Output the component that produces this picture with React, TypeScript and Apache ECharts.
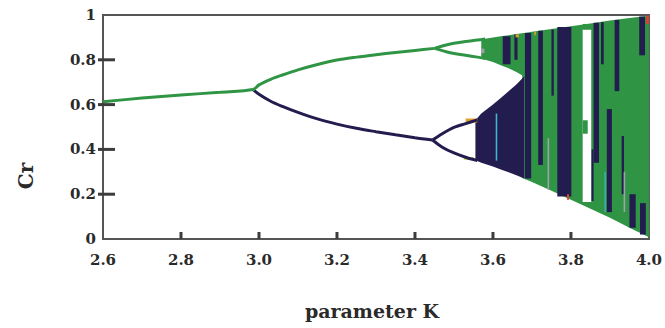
import React, { useEffect, useRef } from 'react';
import * as echarts from 'echarts';

// ---- data: [K, Cr] ----
const fixedAndUpperBranch = [
  [2.6, 0.613], [2.7, 0.629], [2.8, 0.643], [2.9, 0.655], [2.985, 0.667],
  [3.0, 0.688], [3.03, 0.713], [3.06, 0.732], [3.1, 0.755], [3.15, 0.779],
  [3.2, 0.799], [3.25, 0.812], [3.3, 0.823], [3.35, 0.833], [3.4, 0.842], [3.45, 0.851],
];
const lowerBranch = [
  [2.985, 0.667], [3.0, 0.646], [3.03, 0.615], [3.06, 0.592], [3.1, 0.565],
  [3.15, 0.536], [3.2, 0.513], [3.25, 0.494], [3.3, 0.479], [3.35, 0.465],
  [3.4, 0.452], [3.445, 0.442],
];
const upperLoopTop = [[3.45, 0.851], [3.48, 0.866], [3.5, 0.874], [3.53, 0.882], [3.56, 0.888], [3.58, 0.893]];
const upperLoopBottom = [[3.45, 0.851], [3.48, 0.836], [3.5, 0.828], [3.53, 0.82], [3.56, 0.812], [3.58, 0.806]];
const lowerLoopTop = [[3.445, 0.442], [3.47, 0.47], [3.5, 0.498], [3.53, 0.515], [3.56, 0.532]];
const lowerLoopBottom = [[3.445, 0.442], [3.47, 0.41], [3.5, 0.384], [3.53, 0.365], [3.56, 0.35]];

// chaotic bands (envelopes)
const upperBandK = [3.57, 3.58, 3.6, 3.62, 3.64, 3.66, 3.68];
const upperBandTop = [0.891, 0.894, 0.9, 0.905, 0.91, 0.915, 0.92];
const upperBandBottom = [0.815, 0.8, 0.79, 0.776, 0.762, 0.746, 0.725];

const lowerBandK = [3.555, 3.57, 3.6, 3.62, 3.64, 3.66, 3.68];
const lowerBandTop = [0.53, 0.56, 0.6, 0.63, 0.66, 0.69, 0.725];
const lowerBandBottom = [0.352, 0.34, 0.324, 0.31, 0.298, 0.285, 0.27];

const fullBandK = [3.675, 3.7, 3.75, 3.8, 3.85, 3.9, 3.95, 4.0];
const fullBandTop = [0.919, 0.925, 0.937, 0.95, 0.962, 0.975, 0.987, 0.997];
const fullBandBottom = [0.272, 0.255, 0.215, 0.175, 0.135, 0.095, 0.05, 0.008];

// vertical strips [K0, K1, low, high]
const navyStrips = [
  [3.625, 3.645, 0.78, 0.905],
  [3.655, 3.663, 0.8, 0.914],
  [3.682, 3.698, 0.27, 0.92],
  [3.716, 3.728, 0.33, 0.93],
  [3.75, 3.756, 0.64, 0.935],
  [3.765, 3.801, 0.19, 0.946],
  [3.852, 3.858, 0.17, 0.4],
  [3.858, 3.872, 0.34, 0.965],
  [3.877, 3.884, 0.78, 0.968],
  [3.892, 3.905, 0.12, 0.58],
  [3.912, 3.924, 0.66, 0.978],
  [3.93, 3.936, 0.2, 0.46],
  [3.95, 3.966, 0.05, 0.2],
  [3.975, 3.99, 0.82, 0.993],
  [3.977, 3.992, 0.02, 0.16],
];
const orangeStrips = [[3.53, 3.56, 0.52, 0.538], [3.658, 3.666, 0.9, 0.914], [3.706, 3.71, 0.91, 0.926]];
const yellowStrips = [[3.525, 3.55, 0.354, 0.366]];
const greyStrips = [[3.57, 3.578, 0.83, 0.85], [3.74, 3.744, 0.22, 0.45], [3.935, 3.939, 0.12, 0.3]];
const cyanStrips = [[3.607, 3.611, 0.35, 0.56], [3.886, 3.889, 0.12, 0.3]];
const redStrips = [[3.79, 3.795, 0.175, 0.2], [3.993, 4.0, 0.96, 0.997]];
const windowGap = [[3.83, 3.852, 0.165, 0.935]];
const windowPiece = [[3.83, 3.843, 0.47, 0.53], [3.83, 3.852, 0.935, 0.96]];

const xTicks = [2.6, 2.8, 3.0, 3.2, 3.4, 3.6, 3.8, 4.0];
const yTicks = [0, 0.2, 0.4, 0.6, 0.8, 1];

const GREEN = '#2f9545';
const NAVY = '#221d4e';
const AXIS = '#555';
const TICK = 'rgb(60,60,60)';
const FONT = '"DejaVu Serif", "Liberation Serif", serif';

function rectSeries(data: number[][], color: string, z: number) {
  return {
    type: 'custom',
    data,
    z,
    clip: true,
    silent: true,
    encode: { x: [0, 1], y: [2, 3] },
    renderItem: (_p: any, api: any) => {
      const a = api.coord([api.value(0), api.value(3)]);
      const b = api.coord([api.value(1), api.value(2)]);
      return {
        type: 'rect',
        shape: { x: a[0], y: a[1], width: b[0] - a[0], height: b[1] - a[1] },
        style: { fill: color },
      };
    },
  };
}

function bandSeries(ks: number[], top: number[], bottom: number[], color: string, z: number) {
  return {
    type: 'custom',
    data: [[ks[0], top[0]]],
    z,
    clip: true,
    silent: true,
    renderItem: (_p: any, api: any) => {
      const up = ks.map((k, i) => api.coord([k, top[i]]));
      const lo = ks.map((k, i) => api.coord([k, bottom[i]])).reverse();
      return { type: 'polygon', shape: { points: up.concat(lo) }, style: { fill: color } };
    },
  };
}

function lineSeries(data: number[][], color: string, z: number) {
  return {
    type: 'line',
    data,
    z,
    showSymbol: false,
    smooth: 0.3,
    silent: true,
    lineStyle: { color, width: 3 },
  };
}

// tick marks: small rects positioned through the axes' scales (one item per tick)
function tickSeries(ks: number[], vs: number[], horizontal: boolean) {
  return {
    type: 'custom',
    data: ks.map((k, i) => [k, vs[i]]),
    z: 30,
    clip: false,
    silent: true,
    renderItem: (_p: any, api: any) => {
      const p = api.coord([api.value(0), api.value(1)]);
      const shape = horizontal
        ? { x: p[0] - 5, y: p[1] - 1.5, width: 17, height: 3 }
        : { x: p[0] - 1.5, y: p[1] - 7, width: 3, height: 7 };
      return { type: 'rect', shape, style: { fill: TICK } };
    },
  };
}

const xTickInner = xTicks.slice(1, -1);
const yTickInner = yTicks.slice(1, -1);

export default function App() {
  const ref = useRef<HTMLDivElement>(null);
  useEffect(() => {
    if (!ref.current) return;
    const chart = echarts.init(ref.current, null, { renderer: 'svg' });
    chart.setOption({
      animation: false,
      backgroundColor: '#ffffff',
      grid: { left: 103, right: 9, top: 15, bottom: 89, show: true, borderColor: AXIS, borderWidth: 2 },
      xAxis: {
        type: 'value',
        min: xTicks[0],
        max: xTicks[xTicks.length - 1],
        interval: 0.2,
        axisLine: { show: true, lineStyle: { color: AXIS, width: 2 } },
        axisTick: { show: false },
        splitLine: { show: false },
        axisLabel: {
          margin: 13,
          fontFamily: FONT,
          fontWeight: 'bold',
          fontSize: 15,
          color: '#2a2a2a',
          formatter: (v: number) => v.toFixed(1),
        },
      },
      yAxis: {
        type: 'value',
        min: yTicks[0],
        max: yTicks[yTicks.length - 1],
        interval: 0.2,
        axisLine: { show: true, lineStyle: { color: AXIS, width: 2 } },
        axisTick: { show: false },
        splitLine: { show: false },
        axisLabel: {
          margin: 7,
          fontFamily: FONT,
          fontWeight: 'bold',
          fontSize: 15,
          color: '#2a2a2a',
          formatter: (v: number) => (Math.abs(v) < 1e-9 ? '0' : Math.abs(v - 1) < 1e-9 ? '1' : v.toFixed(1)),
        },
      },
      graphic: [
        {
          type: 'text',
          x: 26,
          y: 176,
          rotation: Math.PI / 2,
          style: {
            text: 'Cr',
            font: `bold 20px ${FONT}`,
            fill: '#2a2a2a',
            textAlign: 'center',
            textVerticalAlign: 'middle',
          },
        },
        {
          type: 'text',
          x: 372,
          y: 311,
          style: {
            text: 'parameter K',
            font: `bold 19px ${FONT}`,
            fill: '#2a2a2a',
            textAlign: 'center',
            textVerticalAlign: 'middle',
          },
        },
      ],
      series: [
        bandSeries(fullBandK, fullBandTop, fullBandBottom, GREEN, 1),
        bandSeries(upperBandK, upperBandTop, upperBandBottom, GREEN, 2),
        bandSeries(lowerBandK, lowerBandTop, lowerBandBottom, NAVY, 2),
        rectSeries(navyStrips, NAVY, 3),
        rectSeries(orangeStrips, '#e0a030', 4),
        rectSeries(yellowStrips, '#c8d040', 4),
        rectSeries(greyStrips, '#a2a0a8', 4),
        rectSeries(cyanStrips, '#40b8cc', 4),
        rectSeries(redStrips, '#e04030', 4),
        rectSeries(windowGap, '#ffffff', 5),
        rectSeries(windowPiece, GREEN, 6),
        lineSeries(lowerBranch, NAVY, 7),
        lineSeries(lowerLoopTop, NAVY, 7),
        lineSeries(lowerLoopBottom, NAVY, 7),
        lineSeries(fixedAndUpperBranch, GREEN, 8),
        lineSeries(upperLoopTop, GREEN, 8),
        lineSeries(upperLoopBottom, GREEN, 8),
        tickSeries(xTickInner, xTickInner.map(() => yTicks[0]), false),
        tickSeries(yTickInner.map(() => xTicks[0]), yTickInner, true),
      ],
    });
    return () => chart.dispose();
  }, []);
  return <div ref={ref} style={{ position: 'absolute', left: 0, top: 0, width: 665, height: 328 }} />;
}
